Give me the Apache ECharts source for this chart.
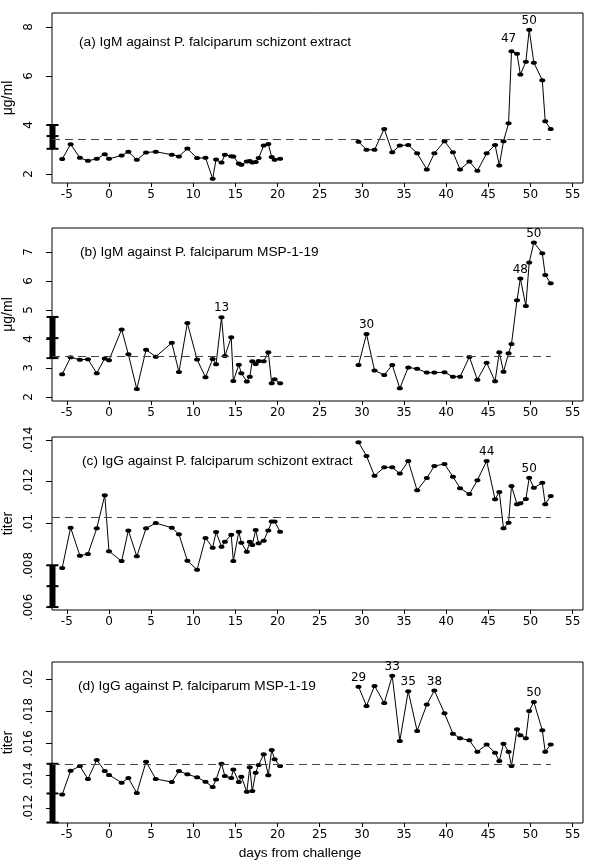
<!DOCTYPE html>
<html><head><meta charset="utf-8">
<script src="https://cdn.jsdelivr.net/npm/echarts@6/dist/echarts.min.js"></script>
<style>html,body{margin:0;padding:0;background:#fff}#c{width:600px;height:868px}</style>
</head><body><div id="c"></div>
<script>
// ---- data ----
const xTicks = [-5, 0, 5, 10, 15, 20, 25, 30, 35, 40, 45, 50, 55];
const daysEarly = [-5.55,-4.55,-3.45,-2.5,-1.45,-0.5,0,1.5,2.3,3.3,4.4,5.55,7.45,8.3,9.3,10.45,11.45,12.3,12.7,13.35,13.75,14.5,14.75,15.4,15.7,16.35,16.7,17.0,17.4,17.75,18.35,18.9,19.3,19.65,20.3];
const daysLate = [29.6,30.55,31.5,32.65,33.6,34.5,35.5,36.55,37.7,38.6,39.8,40.8,41.65,42.75,43.7,44.8,45.8,46.3,46.8,47.4,47.75,48.4,48.8,49.45,49.85,50.4,51.4,51.75,52.4];

const titles = [
  '(a) IgM against P. falciparum schizont extract',
  '(b) IgM against P. falciparum MSP-1-19',
  '(c) IgG against P. falciparum schizont extract',
  '(d) IgG against P. falciparum MSP-1-19'
];
const yNames = ['\u03bcg/ml', '\u03bcg/ml', 'titer', 'titer'];
const xName = 'days from challenge';

const aEarly = [2.61,3.22,2.66,2.54,2.62,2.81,2.62,2.76,2.91,2.58,2.88,2.91,2.79,2.72,3.04,2.65,2.66,1.81,2.59,2.47,2.79,2.73,2.72,2.43,2.38,2.51,2.53,2.47,2.49,2.65,3.16,3.23,2.70,2.58,2.62];
const aLate = [3.32,2.99,2.99,3.84,2.89,3.16,3.19,2.85,2.19,2.85,3.34,2.89,2.19,2.51,2.13,2.85,3.19,2.35,3.34,4.07,7.01,6.91,6.06,6.58,7.89,6.54,5.83,4.15,3.84];
const bEarly = [2.78,3.37,3.28,3.30,2.82,3.33,3.27,4.33,3.47,2.27,3.63,3.39,3.87,2.86,4.55,3.29,2.68,3.31,3.13,4.75,3.41,4.06,2.55,3.11,2.82,2.53,2.70,3.23,3.14,3.24,3.23,3.54,2.47,2.61,2.47];
const bLate = [3.10,4.17,2.91,2.76,3.10,2.30,3.02,2.97,2.84,2.84,2.85,2.70,2.70,3.38,2.59,3.18,2.54,3.54,2.87,3.51,3.83,5.34,6.09,5.14,6.64,7.33,6.96,6.21,5.92];
const cEarly = [.00787,.00980,.00846,.00854,.00977,.01135,.00867,.00820,.00967,.00843,.00977,.01002,.00980,.00948,.00822,.00779,.00931,.00884,.00959,.00889,.00913,.00946,.00820,.00961,.00908,.00865,.00913,.00897,.00969,.00905,.00918,.00967,.01009,.01009,.00961];
const cLate = [.01389,.01323,.01228,.01269,.01269,.01239,.01299,.01159,.01218,.01275,.01285,.01224,.01169,.01141,.01207,.01299,.01116,.01151,.00977,.01004,.01180,.01092,.01097,.01117,.01219,.01171,.01195,.01092,.01132];
const dEarly = [.01283,.01431,.01460,.01380,.01498,.01429,.01405,.01357,.01386,.01293,.01487,.01380,.01361,.01429,.01409,.01390,.01363,.01330,.01376,.01475,.01398,.01386,.01438,.01361,.01394,.01301,.01452,.01305,.01419,.01467,.01533,.01403,.01560,.01502,.01460];
const dLate = [.01952,.01833,.01957,.01851,.02019,.01616,.01924,.01678,.01841,.01928,.01787,.01661,.01632,.01620,.01549,.01593,.01543,.01491,.01599,.01549,.01460,.01688,.01651,.01632,.01802,.01857,.01682,.01549,.01593];

// reference (dashed) levels
const refLevels = [3.43, 3.41, 0.01029, 0.01474];
// bars at left axis: [low, mid, high]
const refBars = [[3.03, 3.55, 4.0], [3.34, 4.03, 4.76], [0.006, 0.007, 0.008], [0.0111, 0.0129, 0.01474]];
// annotated days: [text, day]
const annotA = [['47', 47.75], ['50', 49.85]];
const annotB = [['13', 13.35], ['30', 30.55], ['48', 48.8], ['50', 50.4]];
const annotC = [['44', 44.8], ['50', 49.85]];
const annotD = [['29', 29.6], ['33', 33.6], ['35', 35.5], ['38', 38.6], ['50', 50.4]];

const yTicks = [[2, 4, 6, 8], [2, 3, 4, 5, 6, 7], [0.006, 0.008, 0.01, 0.012, 0.014], [0.012, 0.014, 0.016, 0.018, 0.02]];
const yTickLabels = [['2','4','6','8'], ['2','3','4','5','6','7'], ['.006','.008','.01','.012','.014'], ['.012','.014','.016','.018','.02']];

// ---- layout / style ----
const X_MIN = -6.76, X_MAX = 56.23;
const yRanges = [[1.635, 8.57], [1.86, 7.83], [0.00586, 0.01414], [0.01107, 0.02105]];
const grids = [
  {left: 52, right: 17, top: 13, height: 170},
  {left: 52, right: 17, top: 228, height: 173},
  {left: 52, right: 17, top: 437, height: 173},
  {left: 52, right: 17, top: 662, height: 161}
];
const titlePos = [[79, 35], [80, 245], [82, 454], [78, 679]];
const annotOffsets = {'a47': [-3, -3]};

const panels = [
  [aEarly, aLate, annotA, 'a'],
  [bEarly, bLate, annotB, 'b'],
  [cEarly, cLate, annotC, 'c'],
  [dEarly, dLate, annotD, 'd']
];

const tickFont = 'DejaVu Sans';
const textFont = 'Liberation Sans';

function buildData(early, late, annot, key) {
  const data = [];
  const mk = (day, v) => {
    const a = annot.find(t => Math.abs(t[1] - day) < 1e-6);
    if (!a) return [day, v];
    const off = annotOffsets[key + a[0]] || [0, 0];
    return {value: [day, v], label: {show: true, formatter: a[0], position: 'top', distance: 1, offset: off,
      fontFamily: tickFont, fontSize: 12, color: '#000'}};
  };
  daysEarly.forEach((d, i) => data.push(mk(d, early[i])));
  data.push([(daysEarly[daysEarly.length - 1] + daysLate[0]) / 2, '-']);
  daysLate.forEach((d, i) => data.push(mk(d, late[i])));
  return data;
}

const option = {
  animation: false,
  backgroundColor: '#fff',
  title: titles.map((t, i) => ({text: t, left: titlePos[i][0], top: titlePos[i][1], padding: 0,
    textStyle: {fontFamily: textFont, fontSize: 13.7, fontWeight: 'normal', color: '#000'}}))
    .concat([{text: xName, left: 'center', top: 846, padding: 0,
      textStyle: {fontFamily: textFont, fontSize: 13.7, fontWeight: 'normal', color: '#000'}}]),
  grid: grids.map(g => Object.assign({show: true, borderColor: '#000', borderWidth: 1, backgroundColor: 'transparent',
    containLabel: false, outerBoundsMode: 'none'}, g)),
  xAxis: grids.map((g, i) => ({
    type: 'value', gridIndex: i, min: X_MIN, max: X_MAX, position: 'bottom',
    axisLine: {show: false, onZero: false}, splitLine: {show: false},
    axisTick: {show: true, length: 4, customValues: xTicks, lineStyle: {color: '#000'}},
    axisLabel: {customValues: xTicks, margin: 6, fontFamily: tickFont, fontSize: 12, color: '#000',
      formatter: v => String(v)}
  })),
  yAxis: grids.map((g, i) => ({
    type: 'value', gridIndex: i, min: yRanges[i][0], max: yRanges[i][1], position: 'left',
    name: yNames[i], nameLocation: 'middle', nameGap: 32,
    nameTextStyle: {fontFamily: textFont, fontSize: 14, color: '#000'},
    axisLine: {show: false, onZero: false}, splitLine: {show: false},
    axisTick: {show: true, length: 6, customValues: yTicks[i], lineStyle: {color: '#000'}},
    axisLabel: {customValues: yTicks[i], rotate: 90, margin: 17, fontFamily: tickFont, fontSize: 12, color: '#000',
      formatter: v => { const k = yTicks[i].findIndex(t => Math.abs(t - v) < 1e-9); return k >= 0 ? yTickLabels[i][k] : ''; }}
  })),
  series: []
};

panels.forEach((p, i) => {
  option.series.push({
    type: 'line', xAxisIndex: i, yAxisIndex: i,
    data: buildData(p[0], p[1], p[2], p[3]),
    symbol: 'circle', symbolSize: [6, 4], showSymbol: true, connectNulls: false,
    itemStyle: {color: '#000'}, lineStyle: {color: '#000', width: 1},
    silent: true, z: 3,
    markLine: {silent: true, symbol: 'none', label: {show: false},
      lineStyle: {type: [8, 5], color: '#444', width: 1},
      data: [[{coord: [X_MIN, refLevels[i]]}, {coord: [daysLate[daysLate.length - 1], refLevels[i]]}]]}
  });
  option.series.push({
    type: 'custom', xAxisIndex: i, yAxisIndex: i, silent: true, clip: false, z: 4,
    data: [[X_MIN].concat(refBars[i])],
    renderItem: (params, api) => {
      const x = api.value(0);
      const lo = api.coord([x, api.value(1)]);
      const mid = api.coord([x, api.value(2)]);
      const hi = api.coord([x, api.value(3)]);
      const cx = lo[0] + 0.5, bw = 6, cw = 12;
      const cap = (pt) => ({type: 'line', shape: {x1: cx - cw / 2, y1: pt[1], x2: cx + cw / 2, y2: pt[1]},
        style: {stroke: '#000', lineWidth: 2}});
      return {type: 'group', children: [
        {type: 'rect', shape: {x: cx - bw / 2, y: hi[1], width: bw, height: lo[1] - hi[1]}, style: {fill: '#000'}},
        cap(lo), cap(mid), cap(hi)
      ]};
    }
  });
});

const chart = echarts.init(document.getElementById('c'), null, {renderer: 'canvas'});
chart.setOption(option);
</script>
</body></html>
